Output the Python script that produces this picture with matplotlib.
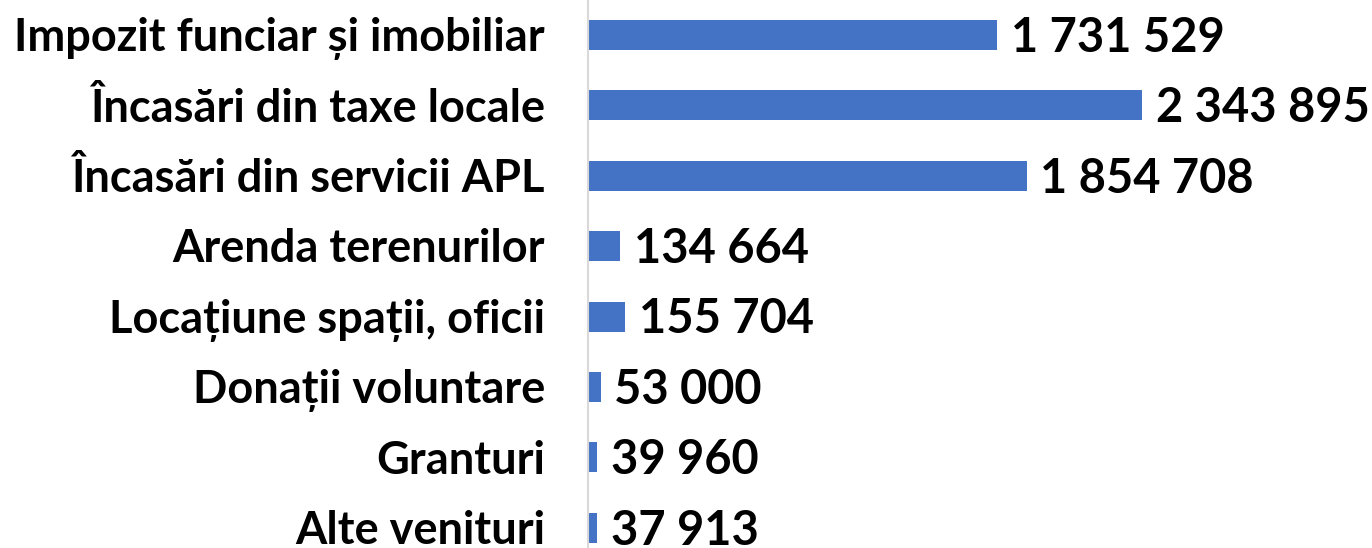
import matplotlib
matplotlib.use("Agg")
import matplotlib.pyplot as plt

categories = [
    "Impozit funciar și imobiliar",
    "Încasări din taxe locale",
    "Încasări din servicii APL",
    "Arenda terenurilor",
    "Locațiune spații, oficii",
    "Donații voluntare",
    "Granturi",
    "Alte venituri",
]
values = [1731529, 2343895, 1854708, 134664, 155704, 53000, 39960, 37913]
value_labels = ["1 731 529", "2 343 895", "1 854 708", "134 664", "155 704", "53 000", "39 960", "37 913"]

plt.rcParams['font.family'] = ['Lato', 'DejaVu Sans']

W, H = 1372, 548
fig = plt.figure(figsize=(W / 100, H / 100), dpi=100)
ax = fig.add_axes([588 / W, 0, 1 - 588 / W, 1])

pos = list(range(len(categories)))
ax.barh(pos, values, height=0.426, color="#4472C4")

ax.set_xlim(0, 3315700)
ax.set_ylim(7.287, -0.497)

ax.set_yticks([])
ax.set_xticks([])

for s in ["top", "right", "bottom"]:
    ax.spines[s].set_visible(False)
ax.spines["left"].set_color("#d9d9d9")
ax.spines["left"].set_linewidth(1.5)

CAP = 0.7165  # Lato cap height / em
fs_cat = 32.5
fs_val = 33.8

for p, cat in zip(pos, categories):
    ax.annotate(cat, (0, p), xytext=(-31, -fs_cat * CAP / 2), textcoords="offset points",
                ha="right", va="baseline", fontsize=fs_cat, fontweight="bold",
                color="black", annotation_clip=False)

for p, v, lab in zip(pos, values, value_labels):
    ax.annotate(lab, (v, p), xytext=(10, -fs_val * CAP / 2), textcoords="offset points",
                ha="left", va="baseline", fontsize=fs_val, fontweight="bold",
                color="black", annotation_clip=False)

fig.savefig("out.png", dpi=100)
